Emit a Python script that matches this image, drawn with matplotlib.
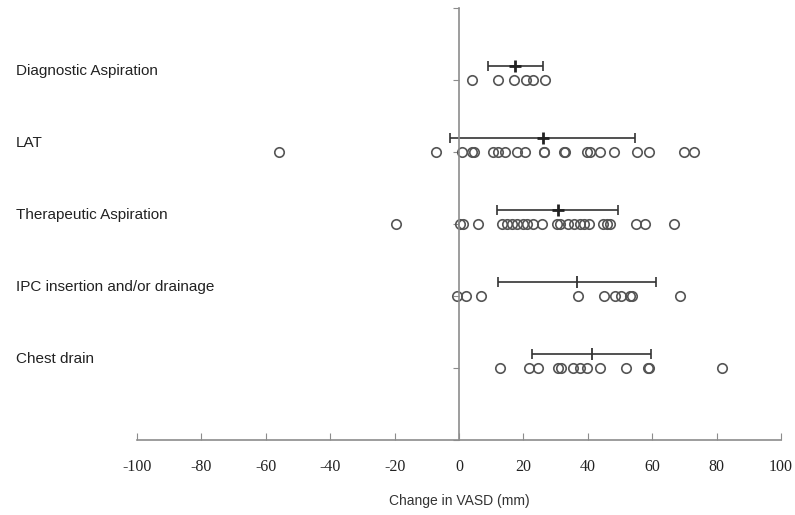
import matplotlib.pyplot as plt
import matplotlib.transforms as mtransforms

# categories, top to bottom
categories = ['Diagnostic Aspiration', 'LAT', 'Therapeutic Aspiration',
              'IPC insertion and/or drainage', 'Chest drain']
y_pos = [5, 4, 3, 2, 1]

# individual changes in VASD (mm)
diag = [3.9, 12.0, 17.1, 20.9, 23.1, 26.8]
lat = [-55.8, -7.0, 0.8, 4.0, 4.7, 10.7, 12.2, 14.3, 18.0, 20.6, 26.3, 26.3,
       32.5, 33.0, 39.8, 40.8, 43.9, 48.1, 55.4, 59.0, 69.9, 73.0]
ther = [-19.6, 0.3, 1.3, 6.0, 13.3, 14.8, 16.4, 18.0, 19.8, 21.0, 23.1, 25.7,
        30.4, 31.5, 34.0, 35.6, 37.5, 38.7, 40.3, 44.8, 46.0, 47.0, 55.1,
        57.9, 66.8]
ipc = [-0.5, 2.2, 6.9, 36.9, 45.0, 48.6, 50.2, 53.1, 53.6, 68.6]
chest = [12.6, 21.7, 24.5, 30.8, 31.8, 35.4, 37.7, 39.9, 43.9, 51.8, 58.8,
         59.1, 81.8]
groups = [diag, lat, ther, ipc, chest]

# mean and sd per group
means = [17.5, 26.0, 30.7, 36.7, 41.2]
sds = [8.5, 28.7, 18.8, 24.6, 18.5]

xticks = [-100, -80, -60, -40, -20, 0, 20, 40, 60, 80, 100]

fig = plt.figure(figsize=(7.95, 5.15), dpi=100)
ax = fig.add_axes([137 / 795, 75 / 515, 644 / 795, 432 / 515])

axis_col = '#8c8c8c'
for vals, y in zip(groups, y_pos):
    ax.plot(vals, [y] * len(vals), linestyle='none', marker='o', ms=6.8,
            mfc='none', mec='#555555', mew=1.2)

for i, (m, s, y) in enumerate(zip(means, sds, y_pos)):
    ax.errorbar(m, y + 0.2, xerr=s, fmt='none', ecolor='#333333',
                elinewidth=1.2, capsize=3.5, capthick=1.2)
    if i < 3:
        ax.plot(m, y + 0.2, marker='+', ms=9, mew=2, color='#222222')
    else:
        ax.plot(m, y + 0.2, marker='|', ms=8, mew=1.3, color='#333333')

# category labels at the left edge of the figure
trans = mtransforms.blended_transform_factory(fig.transFigure, ax.transData)
for name, y in zip(categories, y_pos):
    ax.text(16 / 795, y + 0.12, name, transform=trans, ha='left', va='center',
            fontsize=11, family='Liberation Sans', color='#222222')

ax.set_xlim(-100, 100)
ax.set_ylim(0, 6)
for side in ['top', 'right']:
    ax.spines[side].set_visible(False)
ax.spines['left'].set_position(('data', 0))
ax.spines['left'].set_color(axis_col)
ax.spines['bottom'].set_color(axis_col)
ax.spines['left'].set_linewidth(1.2)
ax.spines['bottom'].set_linewidth(1.2)

ax.set_xticks(xticks)
ax.set_xticklabels([str(t) for t in xticks], family='Liberation Serif',
                   fontsize=11.5, color='#222222')
ax.tick_params(axis='x', direction='in', length=5, color=axis_col, pad=14)
ax.set_yticks([0, 1, 2, 3, 4, 5, 6])
ax.set_yticklabels([])
ax.tick_params(axis='y', direction='out', length=4, color=axis_col)

ax.set_xlabel('Change in VASD (mm)', family='Liberation Sans', fontsize=10,
              color='#333333', labelpad=13)

fig.savefig('out.png', dpi=100)
